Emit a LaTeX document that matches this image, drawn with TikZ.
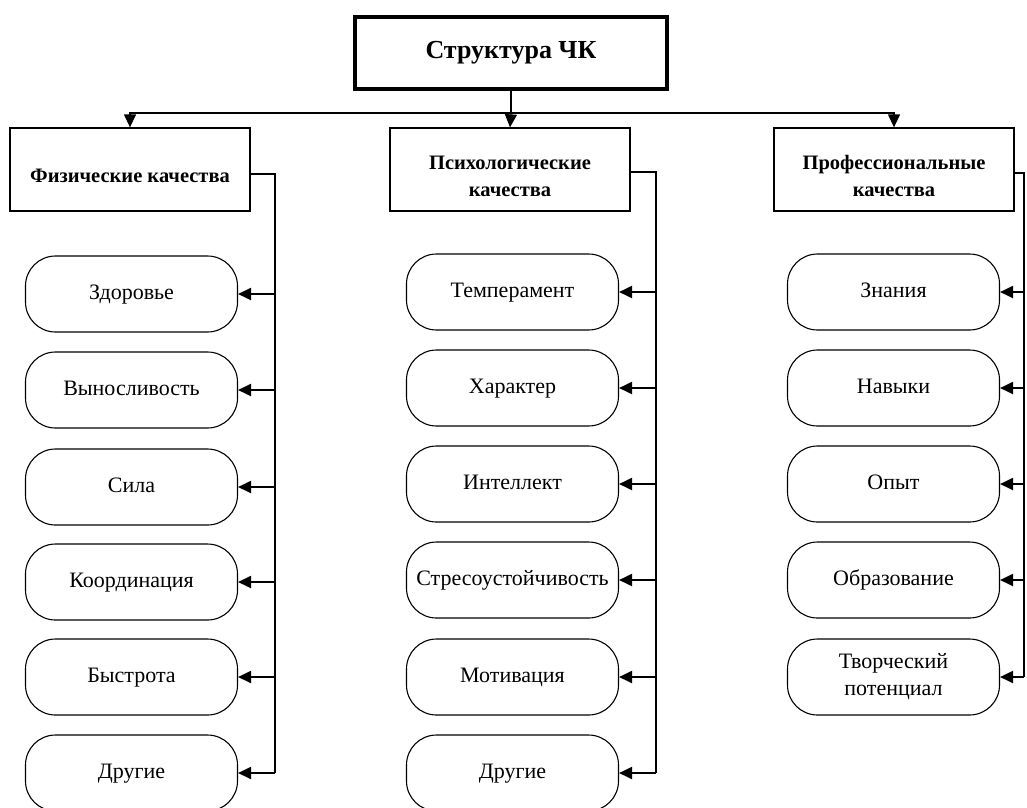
\documentclass[tikz,border=0pt]{standalone}
\usepackage{fontspec}
\setmainfont{Liberation Serif}
\usetikzlibrary{arrows.meta}
\begin{document}
\begin{tikzpicture}[x=1pt,y=-1pt,
  every node/.style={font=\fontsize{22}{27}\selectfont},
  titlebox/.style={draw,line width=3.5pt,minimum width=312pt,minimum height=72pt,font=\fontsize{26}{30}\selectfont\bfseries},
  headbox/.style={draw,line width=1.3pt,minimum width=240pt,minimum height=83pt,align=center,font=\fontsize{20.5}{27}\selectfont\bfseries,text height=26pt,text depth=0pt},
  headtwo/.style={text height=53pt,text depth=0pt},
  twoline/.style={text height=41pt,text depth=5pt},
  itembox/.style={draw,line width=1.1pt,rounded corners=30pt,minimum width=212pt,minimum height=76pt,align=center,text height=15pt,text depth=5pt},
  conn/.style={line width=2pt},
  tip/.style={-{Triangle[length=13pt,width=12pt]}},
  hline/.style={line width=1.3pt}
]
\useasboundingbox (0,0) rectangle (1027,807);
\node[titlebox] (top) at (511,53) {Структура ЧК};
\node[headbox] (h1) at (130,169.5) {Физические качества};
\node[headbox,headtwo] (h2) at (510,169.5) {Психологические\\качества};
\node[headbox,headtwo] (h3) at (894,169.5) {Профессиональные\\качества};

\coordinate (bar) at (511,113);
\draw[hline] (top.south) -- (bar);
\draw[hline,tip] (bar) -| (h1.north);
\draw[hline,tip] (bar) -| (h3.north);
\draw[hline,tip] (bar) -- (h2.north);

% left column
\node[itembox] (a1) at (131.5,294) {Здоровье};
\node[itembox] (a2) at (131.5,390) {Выносливость};
\node[itembox] (a3) at (131.5,487) {Сила};
\node[itembox] (a4) at (131.5,582) {Координация};
\node[itembox] (a5) at (131.5,677) {Быстрота};
\node[itembox] (a6) at (131.5,773) {Другие};
% middle column
\node[itembox] (b1) at (512.5,292) {Темперамент};
\node[itembox] (b2) at (512.5,388) {Характер};
\node[itembox] (b3) at (512.5,484) {Интеллект};
\node[itembox] (b4) at (512.5,580) {Стресоустойчивость};
\node[itembox] (b5) at (512.5,677) {Мотивация};
\node[itembox] (b6) at (512.5,773) {Другие};
% right column
\node[itembox] (c1) at (893.5,292) {Знания};
\node[itembox] (c2) at (893.5,388) {Навыки};
\node[itembox] (c3) at (893.5,484) {Опыт};
\node[itembox] (c4) at (893.5,580) {Образование};
\node[itembox,twoline] (c5) at (893.5,677) {Творческий\\потенциал};

\coordinate (bus1) at (275,174);
\coordinate (bus2) at (656,172);
\coordinate (bus3) at (1024,173);

\draw[conn] (h1.east |- bus1) -- (bus1) -- (bus1 |- a6.east);
\foreach \n in {a1,a2,a3,a4,a5,a6} \draw[conn,tip] (bus1 |- \n.east) -- (\n.east);
\draw[conn] (h2.east |- bus2) -- (bus2) -- (bus2 |- b6.east);
\foreach \n in {b1,b2,b3,b4,b5,b6} \draw[conn,tip] (bus2 |- \n.east) -- (\n.east);
\draw[conn] (h3.east |- bus3) -- (bus3) -- (bus3 |- c5.east);
\foreach \n in {c1,c2,c3,c4,c5} \draw[conn,tip] (bus3 |- \n.east) -- (\n.east);
\end{tikzpicture}
\end{document}
